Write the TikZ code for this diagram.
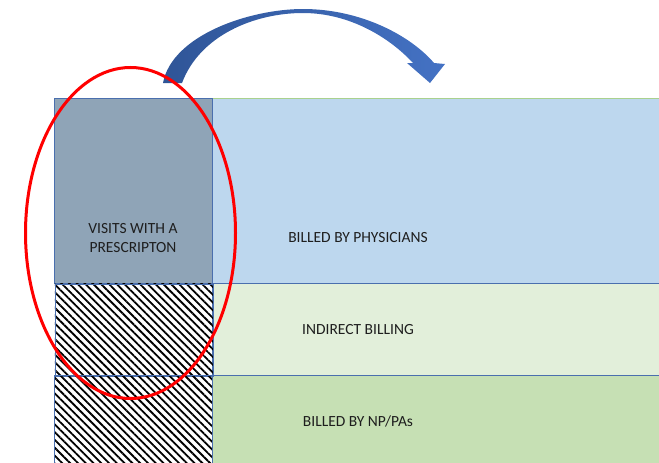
\documentclass[tikz,border=0pt]{standalone}
\usepackage{fontspec}
\setmainfont{Carlito}
\usetikzlibrary{patterns.meta,shapes.geometric}

\definecolor{visitgray}{HTML}{8FA4B7}
\definecolor{physblue}{HTML}{BDD7EE}
\definecolor{indirectgreen}{HTML}{E2EFDA}
\definecolor{npgreen}{HTML}{C6E0B4}
\definecolor{cellline}{HTML}{4A6FAE}
\definecolor{bandtop}{HTML}{A9D18E}
\definecolor{arrowdark}{HTML}{2F5597}
\definecolor{arrowlight}{HTML}{4472C4}
\definecolor{labeltext}{HTML}{1E1E1E}

\begin{document}
\begin{tikzpicture}[x=1pt, y=-1pt]
        \tikzset{cell/.style={rectangle, draw=cellline, line width=0.7pt, inner sep=0pt, anchor=north west},
                 hatched/.style={cell, pattern={Lines[angle=-45, distance=5.5pt, line width=1.8pt]}},
                 rowlabel/.style={font=\fontsize{15.5}{18.5}\selectfont, text=labeltext, align=center, inner sep=0pt}}
        \useasboundingbox (0,0) rectangle (659,463);
        % billing bands on the right
        \node[cell, fill=physblue, minimum width=480pt, minimum height=185pt] (physicians) at (212,98) {};
        \node[cell, fill=indirectgreen, minimum width=480pt, minimum height=92pt] (indirect) at (212,283) {};
        \node[cell, fill=npgreen, minimum width=480pt, minimum height=110pt] (npbilled) at (212,375) {};
        \draw[bandtop, line width=1pt] (physicians.north west) -- (physicians.north east);
        % visits column
        \node[cell, fill=visitgray, minimum width=158pt, minimum height=185pt] (visits) at (54,98) {};
        \node[hatched, minimum width=158pt, minimum height=92pt] (hatchup) at (54,283) {};
        \node[hatched, minimum width=158pt, minimum height=110pt] (hatchdown) at (54,375) {};
        \node[rowlabel] (visitslabel) at (133,238) {VISITS WITH A\\PRESCRIPTON};
        \node[rowlabel] (physlabel) at (358,238) {BILLED BY PHYSICIANS};
        \node[rowlabel] (indirectlabel) at (358,330) {INDIRECT BILLING};
        \node[rowlabel] (nplabel) at (358,421) {BILLED BY NP/PAs};
        % curved block arrow
        \shade[left color=arrowdark, right color=arrowlight]
            (163,83) .. controls (172,35) and (250,9) .. (303,9)
            .. controls (360,9) and (410,35) .. (434,63)
            -- (445,64) -- (430,83) -- (407,63) -- (413,63)
            .. controls (390,38) and (350,13) .. (303,13)
            .. controls (255,13) and (200,35) .. (182,83) -- cycle;
        % red ring
        \node[ellipse, draw=red, line width=3pt, inner sep=0pt, minimum width=210pt, minimum height=331pt] (ring) at (130.5,233) {};
    \end{tikzpicture}
\end{document}
